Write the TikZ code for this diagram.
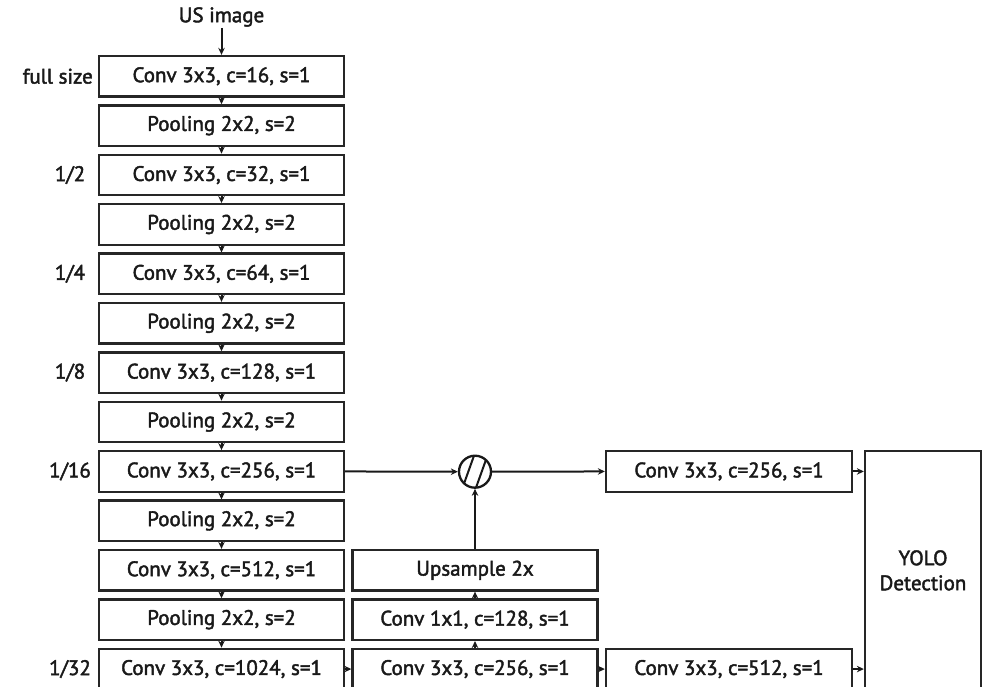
\documentclass[tikz,border=0pt]{standalone}
\usepackage{fontspec}
\setmainfont{PT Sans}
\newfontfamily\boxfont{PT Sans}[FakeBold=2]
\usetikzlibrary{arrows.meta}

\begin{document}
\begin{tikzpicture}[x=1pt,y=-1pt,
  txt/.style={font=\boxfont\fontsize{21}{25}\selectfont, text=black!90},
  blk/.style={txt, draw=black!85, line width=2.3pt, minimum width=245pt,
              minimum height=40.5pt, inner sep=0pt, anchor=center},
  conn/.style={-{Stealth[length=7pt,width=6.5pt]}, line width=2pt, draw=black!90},
]
\useasboundingbox (0,0) rectangle (982,687);

% backbone column
\node[txt, inner sep=1pt] (us) at (221.5,17) {US image};
\node[blk] (b0)  at (221.5,76.25)  {Conv 3x3, c=16, s=1};
\node[blk] (b1)  at (221.5,125.65) {Pooling 2x2, s=2};
\node[blk] (b2)  at (221.5,175.05) {Conv 3x3, c=32, s=1};
\node[blk] (b3)  at (221.5,224.45) {Pooling 2x2, s=2};
\node[blk] (b4)  at (221.5,273.85) {Conv 3x3, c=64, s=1};
\node[blk] (b5)  at (221.5,323.25) {Pooling 2x2, s=2};
\node[blk] (b6)  at (221.5,372.65) {Conv 3x3, c=128, s=1};
\node[blk] (b7)  at (221.5,422.05) {Pooling 2x2, s=2};
\node[blk] (b8)  at (221.5,471.45) {Conv 3x3, c=256, s=1};
\node[blk] (b9)  at (221.5,520.85) {Pooling 2x2, s=2};
\node[blk] (b10) at (221.5,570.25) {Conv 3x3, c=512, s=1};
\node[blk] (b11) at (221.5,619.65) {Pooling 2x2, s=2};
\node[blk] (b12) at (221.5,669.05) {Conv 3x3, c=1024, s=1};

% resolution labels
\node[txt, anchor=east, inner sep=0pt] (l0) at (93,76.25) {full size};
\node[txt] (l2)  at (70,175.05) {1/2};
\node[txt] (l4)  at (70,273.85) {1/4};
\node[txt] (l6)  at (70,372.65) {1/8};
\node[txt] (l8)  at (70,471.45) {1/16};
\node[txt] (l12) at (70,669.05) {1/32};

% upsampling branch
\node[blk] (c12) at (475,669.05) {Conv 3x3, c=256, s=1};
\node[blk] (c11) at (475,619.65) {Conv 1x1, c=128, s=1};
\node[blk] (c10) at (475,570.25) {Upsample 2x};

% concatenation
\node[circle, draw=black!90, line width=2.3pt, minimum size=32pt, inner sep=0pt] (cat) at (475,471.7) {};
\draw[line width=2pt, black!90] ([shift={(-11,12)}]cat.center) -- ([shift={(-1,-16)}]cat.center);
\draw[line width=2pt, black!90] ([shift={(1,16)}]cat.center) -- ([shift={(11,-12)}]cat.center);

% heads
\node[blk, minimum width=246pt] (d8)  at (729,471.45) {Conv 3x3, c=256, s=1};
\node[blk, minimum width=246pt] (d12) at (729,669.05) {Conv 3x3, c=512, s=1};
\node[blk, minimum width=116pt, minimum height=238.5pt, align=center, text depth=0pt] (yolo) at (923,570.25) {YOLO\\Detection};

% connectors
\draw[conn] (us.south) -- (b0.north);
\foreach \a/\b in {b0/b1,b1/b2,b2/b3,b3/b4,b4/b5,b5/b6,b6/b7,b7/b8,b8/b9,b9/b10,b10/b11,b11/b12}
  \draw[conn] (\a.south) -- (\b.north);
\draw[conn] (b12.east) -- (c12.west);
\draw[conn] (c12.north) -- (c11.south);
\draw[conn] (c11.north) -- (c10.south);
\draw[conn] (c10.north) -- (cat.south);
\draw[conn] (b8.east) -- (cat.west);
\draw[conn] (cat.east) -- (d8.west);
\draw[conn] (c12.east) -- (d12.west);
\draw[conn] (d8.east) -- (d8.east -| yolo.west);
\draw[conn] (d12.east) -- (d12.east -| yolo.west);
\end{tikzpicture}
\end{document}
